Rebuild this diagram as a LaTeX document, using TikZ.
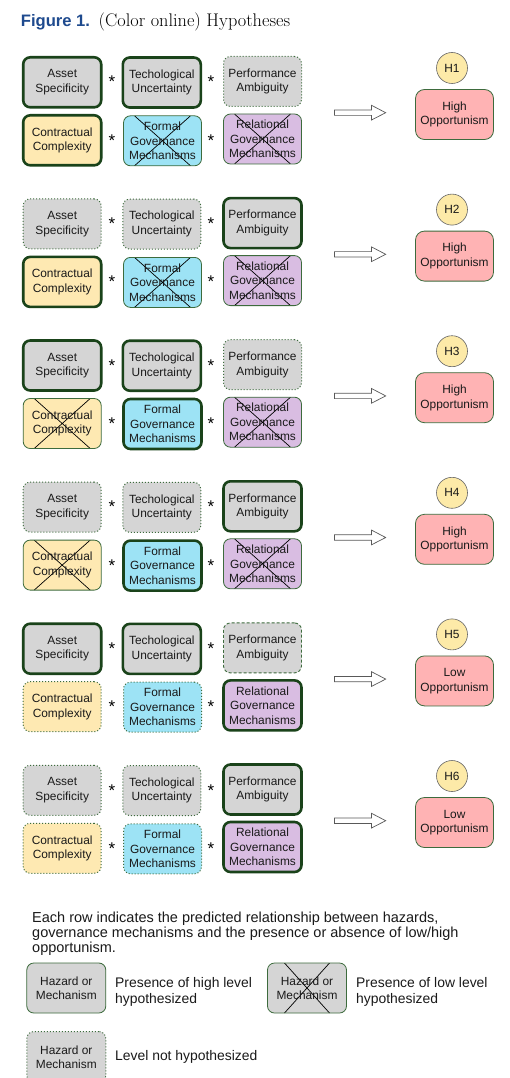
\documentclass[tikz,border=0pt]{standalone}
\usepackage{fontspec}
\newfontfamily\arialf{Liberation Sans}
\usetikzlibrary{shapes.geometric}
\definecolor{dkgreen}{HTML}{1A431A}
\definecolor{thingreen}{HTML}{3D6B3D}
\definecolor{grayf}{HTML}{D5D5D5}
\definecolor{yellowf}{HTML}{FEE9B2}
\definecolor{cyanf}{HTML}{9DE3F5}
\definecolor{purplef}{HTML}{D9BDE2}
\definecolor{pinkf}{HTML}{FFB3B4}
\definecolor{circf}{HTML}{FDEAA8}
\definecolor{figblue}{HTML}{1E4A8E}
\definecolor{txt}{HTML}{1A1A1A}
\tikzset{
  hbox/.style={rounded corners=7pt, minimum width=78pt, minimum height=50pt,
    inner sep=0pt, align=center, text=txt,
    font=\arialf\fontsize{11.9}{14.5}\selectfont},
  strongb/.style={hbox, draw=dkgreen, line width=2.6pt},
  thinb/.style={hbox, draw=thingreen, line width=0.8pt},
  dotb/.style={hbox, draw=thingreen, line width=1pt, dash pattern=on 1pt off 2pt},
  dashb/.style={hbox, draw=thingreen, line width=0.9pt, dash pattern=on 3pt off 2pt},
  crossb/.style={thinb, path picture={
    \draw[black, line width=0.7pt]
      ([xshift=#1]path picture bounding box.north west) -- ([xshift=-#1]path picture bounding box.south east)
      ([xshift=-#1]path picture bounding box.north east) -- ([xshift=#1]path picture bounding box.south west);}},
  crossb/.default=11pt,
  starn/.style={anchor=base, inner sep=0pt, font=\arialf\fontsize{17}{18}\selectfont},
  outbox/.style={rounded corners=9pt, minimum width=78pt, minimum height=50pt,
    inner sep=0pt, align=center, fill=pinkf, draw=thingreen, line width=0.8pt, text=txt,
    font=\arialf\fontsize{11.9}{14.5}\selectfont},
  hcirc/.style={circle, minimum size=31pt, inner sep=0pt,
    fill=circf, draw=black!60, line width=0.6pt, text=txt,
    font=\arialf\fontsize{11.9}{14}\selectfont},
  arrowst/.style={draw=black!65, fill=white, line width=0.7pt, line join=miter},
  legtxt/.style={inner sep=0pt, align=left, text=txt, font=\arialf\fontsize{13.9}{15.5}\selectfont}
}
\newcommand\hrow[9]{%
\begin{scope}[yshift=-#9pt]
  \node[#2, fill=grayf] (a#1) at (62.2,82.3) {Asset\\Specificity};
  \node[#3, fill=grayf] (t#1) at (161.8,82.5) {Techological\\Uncertainty};
  \node[#4, fill=grayf] (p#1) at (262.5,81.5) {Performance\\Ambiguity};
  \node[#5, fill=yellowf] (c#1) at (62.2,140.3) {Contractual\\Complexity};
  \node[#6, fill=cyanf] (f#1) at (162.5,140.8) {Formal\\Governance\\Mechanisms};
  \node[#7, fill=purplef] (r#1) at (262.5,139) {Relational\\Governance\\Mechanisms};
  \node[starn] (sa#1) at (112,88) {*};
  \node[starn] (sb#1) at (211,88) {*};
  \node[starn] (sc#1) at (112,146.3) {*};
  \node[starn] (sd#1) at (211,146.3) {*};
  \node[hcirc] (h#1) at (452,68) {H#1};
  \node[outbox] (o#1) at (454.5,114.5) {#8\\Opportunism};
  \draw[arrowst] (334.5,110) -- (371.5,110) -- (371.5,105.3) -- (385.7,112.7)
     -- (371.5,120) -- (371.5,115.4) -- (334.5,115.4) -- cycle;
\end{scope}}
\begin{document}
\begin{tikzpicture}[x=1pt,y=-1pt]
\path[fill=white, use as bounding box] (0,0) rectangle (510,1078);
\node[anchor=base west, inner sep=0pt, text=figblue, font=\arialf\bfseries\fontsize{16.6}{20}\selectfont] (fig) at (20.7,26.7) {Figure 1.};
\node[anchor=base west, inner sep=0pt, font=\fontsize{18.3}{20}\selectfont] (cap) at (98.5,26.7) {(Color online) Hypotheses};
\hrow{1}{strongb}{strongb}{dotb}{strongb}{crossb}{crossb}{High}{0}
\hrow{2}{dotb}{dotb}{strongb}{strongb}{crossb}{crossb}{High}{141.6}
\hrow{3}{strongb}{strongb}{dotb}{crossb}{strongb}{crossb}{High}{283.2}
\hrow{4}{dotb}{dotb}{strongb}{crossb}{strongb}{crossb}{High}{424.8}
\hrow{5}{strongb}{strongb}{dashb}{dotb}{dotb}{strongb}{Low}{566.4}
\hrow{6}{dotb}{dotb}{strongb}{dotb}{dotb}{strongb}{Low}{708}
% legend
\node[legtxt, anchor=west, font=\arialf\fontsize{14.5}{14.8}\selectfont] (para) at (32,933.5)
  {Each row indicates the predicted relationship between hazards,\\governance mechanisms and the presence or absence of low/high\\opportunism.};
\node[thinb, fill=grayf, minimum width=79pt] (l1) at (66.3,988) {Hazard or\\Mechanism};
\node[legtxt, anchor=west] (l1t) at (115,992) {Presence of high level\\hypothesized};
\node[crossb=17pt, fill=grayf, minimum width=79pt] (l2) at (307,988) {Hazard or\\Mechanism};
\node[legtxt, anchor=west] (l2t) at (356,992) {Presence of low level\\hypothesized};
\node[dotb, fill=grayf, minimum width=79pt, minimum height=51pt] (l3) at (66.3,1057) {Hazard or\\Mechanism};
\node[legtxt, anchor=base west] (l3t) at (115,1060) {Level not hypothesized};
\end{tikzpicture}
\end{document}
